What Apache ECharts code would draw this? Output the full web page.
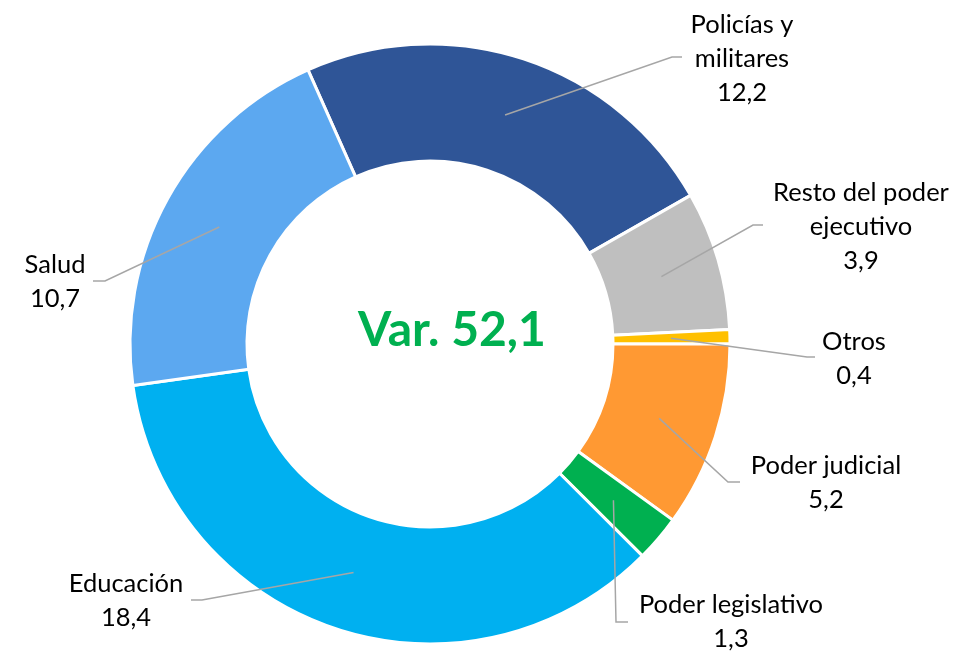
<!DOCTYPE html>
<html>
<head>
<meta charset="utf-8">
<script src="https://cdn.jsdelivr.net/npm/echarts@6/dist/echarts.min.js"></script>
<style>html,body{margin:0;padding:0;background:#fff;}#chart{width:956px;height:653px;}</style>
</head>
<body>
<div id="chart"></div>
<script>
// ---- data ----
const categories = ['Policías y militares', 'Resto del poder ejecutivo', 'Otros', 'Poder judicial', 'Poder legislativo', 'Educación', 'Salud'];
const labelLines = ['Policías y\nmilitares', 'Resto del poder\nejecutivo', 'Otros', 'Poder judicial', 'Poder legislativo', 'Educación', 'Salud'];
const values = [12.2, 3.9, 0.4, 5.2, 1.3, 18.4, 10.7];
const centerLabel = 'Var. 52,1';

// ---- styles / layout ----
const colors = ['#2F5597', '#BFBFBF', '#FFC000', '#FF9933', '#00B050', '#00B0F0', '#5CA8F0'];
const CX = 430, CY = 344, R0 = 183, R = 300, RMID = 241;
// label block center, elbow point, end point
const labelLayoutSpec = [
  {x: 742, y: 59, elbow: [672, 57], end: [682, 57]},
  {x: 861, y: 227, elbow: [753, 225], end: [763, 225]},
  {x: 854, y: 359, elbow: [807, 357], end: [815, 357]},
  {x: 826, y: 483, elbow: [728, 482], end: [740, 482]},
  {x: 731, y: 622, elbow: [616, 622], end: [628, 622]},
  {x: 126, y: 601, elbow: [202, 600], end: [191, 600]},
  {x: 55, y: 282, elbow: [105, 281], end: [93, 281]}
];
const FONT = 'Lato';

const chart = echarts.init(document.getElementById('chart'), null, {renderer: 'canvas'});
const fmt = v => v.toFixed(1).replace('.', ',');
const data = categories.map((c, i) => ({name: c, value: values[i], itemStyle: {color: colors[i]}}));
const dataLabels = categories.map((c, i) => ({name: c, value: values[i]}));

chart.setOption({
  animation: false,
  backgroundColor: '#fff',
  series: [
    {
      type: 'pie',
      z: 2,
      center: [CX, CY],
      radius: [R0, R],
      startAngle: 114,
      clockwise: true,
      silent: true,
      avoidLabelOverlap: false,
      label: {show: false},
      labelLine: {show: false},
      itemStyle: {borderColor: '#fff', borderWidth: 3},
      emphasis: {disabled: true},
      data: data
    },
    {
      type: 'pie',
      z: 5,
      center: [CX, CY],
      radius: [R0, RMID],
      startAngle: 114,
      clockwise: true,
      silent: true,
      avoidLabelOverlap: false,
      itemStyle: {color: 'rgba(0,0,0,0)', borderWidth: 0},
      emphasis: {disabled: true},
      label: {
        show: true,
        position: 'outside',
        formatter: p => labelLines[p.dataIndex] + '\n' + fmt(p.value),
        fontFamily: FONT,
        fontSize: 25.5,
        lineHeight: 34,
        color: '#000',
        align: 'center'
      },
      labelLine: {show: true, length: 10, length2: 10, lineStyle: {color: '#A6A6A6', width: 1.5}},
      labelLayout: function (params) {
        const s = labelLayoutSpec[params.dataIndex];
        const p0 = params.labelLinePoints ? params.labelLinePoints[0] : [CX, CY];
        return {
          x: s.x, y: s.y, align: 'center', verticalAlign: 'middle',
          labelLinePoints: [p0, s.elbow, s.end]
        };
      },
      data: dataLabels
    }
  ],
  graphic: [{
    type: 'text',
    z: 10,
    x: 452, y: 331,
    style: {
      text: centerLabel,
      fill: '#00B050',
      font: 'bold 48px Lato',
      textAlign: 'center',
      textVerticalAlign: 'middle'
    }
  }]
});
</script>
</body>
</html>
